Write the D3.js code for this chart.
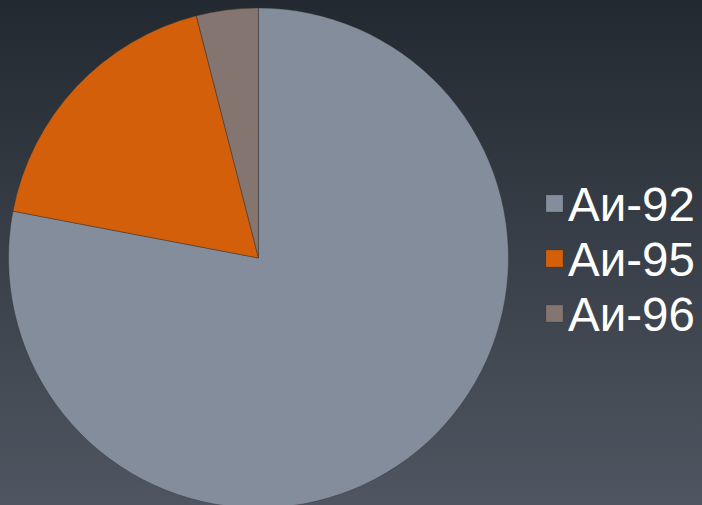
<!DOCTYPE html>
<html><head><meta charset="utf-8">
<script src="https://cdn.jsdelivr.net/npm/d3@7"></script>
<style>html,body{margin:0;padding:0;background:#2a3038;}svg{display:block;}</style>
</head><body>
<svg id="chart" width="702" height="505"></svg>
<script>
const categories = ["Аи-92", "Аи-95", "Аи-96"];
const values = [78, 18, 4];
const colors = ["#848d9c", "#d35f0b", "#857570"];

const svg = d3.select("#chart");
const W = 702, H = 505;
const defs = svg.append("defs");
const grad = defs.append("linearGradient").attr("id","bg").attr("x1",0).attr("y1",0).attr("x2",0).attr("y2",1);
grad.append("stop").attr("offset","0%").attr("stop-color","#222930");
grad.append("stop").attr("offset","100%").attr("stop-color","#4f5661");
svg.append("rect").attr("width",W).attr("height",H).attr("fill","url(#bg)");

const cx = 258.5, cy = 258, r = 250;
const data = categories.map((c,i)=>({name:c, value:values[i], color:colors[i]}));
const pie = d3.pie().value(d=>d.value).sort(null);
const arc = d3.arc().innerRadius(0).outerRadius(r);
const g = svg.append("g").attr("transform",`translate(${cx},${cy})`);
g.selectAll("path").data(pie(data)).join("path")
  .attr("d", arc)
  .attr("fill", d=>d.data.color)
  .attr("stroke", "rgba(50,50,50,0.55)")
  .attr("stroke-width", 0.8);

const y = d3.scalePoint().domain(categories).range([221, 331]);
const leg = svg.append("g");
const items = leg.selectAll("g").data(data).join("g")
  .attr("transform", d=>`translate(0,${y(d.name)})`);
items.append("rect").attr("x",546).attr("y",-26).attr("width",17).attr("height",17)
  .attr("fill", d=>d.color).attr("stroke","rgba(40,40,40,0.4)").attr("stroke-width",0.5);
items.append("text").attr("x",568).attr("y",0)
  .attr("font-family","'Liberation Sans', Arial, sans-serif")
  .attr("font-size",47.5).attr("fill","#ffffff")
  .text(d=>d.name);
</script>
</body></html>
